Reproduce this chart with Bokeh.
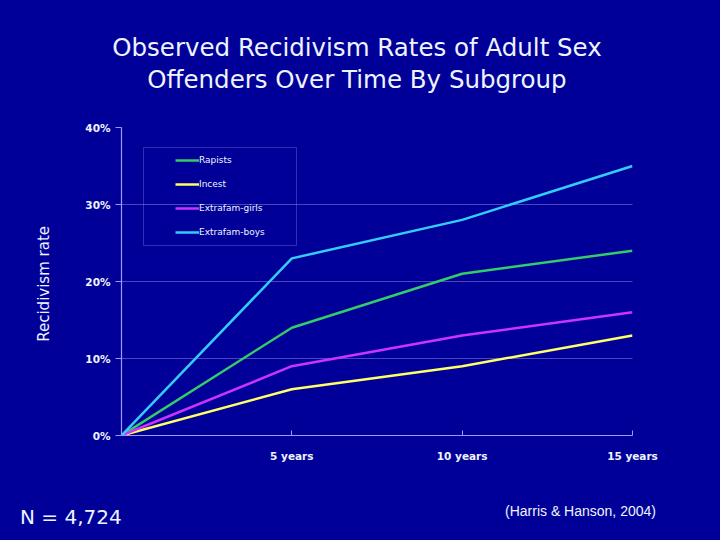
import html as htmllib
from bokeh.plotting import figure
from bokeh.models import Div, Legend, LegendItem, BoxAnnotation, FixedTicker, PrintfTickFormatter, Range1d
from bokeh.layouts import column
from bokeh.embed import file_html
from bokeh.resources import INLINE

years = [0, 5, 10, 15]
x_tick_labels = {5: "5 years", 10: "10 years", 15: "15 years"}
y_ticks = [0, 10, 20, 30, 40]
rapists = [0, 14, 21, 24]
incest = [0, 6, 9, 13]
extrafam_girls = [0, 9, 13, 16]
extrafam_boys = [0, 23, 28, 35]
title_lines = ["Observed Recidivism Rates of Adult Sex", "Offenders Over Time By Subgroup"]
y_label = "Recidivism  rate"
note_left = "N = 4,724"
note_right = "(Harris & Hanson, 2004)"

BG = "#000099"
AXIS = "#9a9aff"
TXT = "#eef4ff"
W = 704

# ---- title block ----
title_html = (
    '<div style="width:%dpx;height:100px;box-sizing:border-box;padding:24px 6px 0 0;'
    'text-align:center;font-family:\'DejaVu Sans\';font-size:24.5px;line-height:32px;'
    'color:%s;background:%s;white-space:nowrap;">%s</div>'
    % (W, TXT, BG, "<br>".join(htmllib.escape(t) for t in title_lines)))
top = Div(text=title_html, width=W, height=100, margin=0, styles={"background-color": BG})

# ---- main chart ----
p = figure(width=W, height=364, output_backend="svg", toolbar_location=None, title=None,
           x_range=Range1d(0, 15), y_range=Range1d(0, 40),
           min_border_left=113, min_border_right=80, min_border_top=19, min_border_bottom=37)
p.background_fill_color = BG
p.border_fill_color = BG
p.outline_line_color = None

p.xaxis.ticker = FixedTicker(ticks=[5, 10, 15])
p.xaxis.major_label_overrides = x_tick_labels
p.yaxis.ticker = FixedTicker(ticks=y_ticks)
p.yaxis.formatter = PrintfTickFormatter(format="%d%%")
for ax in (p.xaxis, p.yaxis):
    ax.axis_line_color = AXIS
    ax.axis_line_width = 1.2
    ax.major_tick_line_color = AXIS
    ax.minor_tick_line_color = None
    ax.major_label_text_color = TXT
    ax.major_label_text_font = "DejaVu Sans"
    ax.major_label_text_font_size = "10.5px"
    ax.major_label_text_font_style = "bold"
p.xaxis.major_tick_in = 5
p.xaxis.major_tick_out = 0
p.xaxis.major_label_standoff = 14
p.yaxis.major_tick_in = 0
p.yaxis.major_tick_out = 6
p.yaxis.major_label_standoff = 5
p.yaxis.axis_label = y_label
p.yaxis.axis_label_text_color = TXT
p.yaxis.axis_label_text_font = "DejaVu Sans"
p.yaxis.axis_label_text_font_size = "15px"
p.yaxis.axis_label_text_font_style = "normal"
p.yaxis.axis_label_standoff = 29

p.xgrid.grid_line_color = None
p.ygrid.ticker = FixedTicker(ticks=[10, 20, 30])
p.ygrid.grid_line_color = "#c0c0f8"
p.ygrid.grid_line_dash = "1 1"
p.ygrid.grid_line_alpha = 0.75

series = [("Rapists", rapists, "#33cc66"),
          ("Incest", incest, "#ffff66"),
          ("Extrafam-girls", extrafam_girls, "#cc33ff"),
          ("Extrafam-boys", extrafam_boys, "#33ccff")]
items = []
for name, vals, col in series:
    r = p.line(years, vals, line_color=col, line_width=2.5)
    items.append(LegendItem(label=name, renderers=[r]))

box = BoxAnnotation(left=0.646, right=5.137, bottom=24.68, top=37.4,
                    fill_alpha=0, line_color=AXIS, line_width=1)
p.add_layout(box)

legend = Legend(items=items, location=(54, 193), orientation="vertical",
                background_fill_alpha=0, border_line_color=None,
                label_text_color=TXT, label_text_font="DejaVu Sans",
                label_text_font_size="9px", glyph_width=24, glyph_height=20,
                label_height=20, spacing=4, padding=0, margin=0, label_standoff=0)
p.add_layout(legend, "center")

# ---- bottom notes ----
notes_html = (
    '<div style="position:relative;width:%dpx;height:60px;background:%s;color:%s;">'
    '<span style="position:absolute;left:12px;top:33px;font-family:\'DejaVu Sans\';'
    'font-size:20px;line-height:24px;white-space:nowrap;">%s</span>'
    '<span style="position:absolute;left:497px;top:31px;font-family:\'Liberation Sans\';'
    'font-size:14px;line-height:16px;white-space:nowrap;">%s</span></div>'
    % (W, BG, TXT, htmllib.escape(note_left), htmllib.escape(note_right)))
bot = Div(text=notes_html, width=W, height=60, margin=0, styles={"background-color": BG})

layout = column(top, p, bot, spacing=0, styles={"background-color": BG})
html = file_html(layout, INLINE)
html = html.replace(
    "</head>",
    "<style>html, body { background-color: %s; overflow: hidden; } "
    "body { box-sizing: border-box; padding: 8px !important; }</style></head>" % BG, 1)
open("out.html", "w").write(html)
